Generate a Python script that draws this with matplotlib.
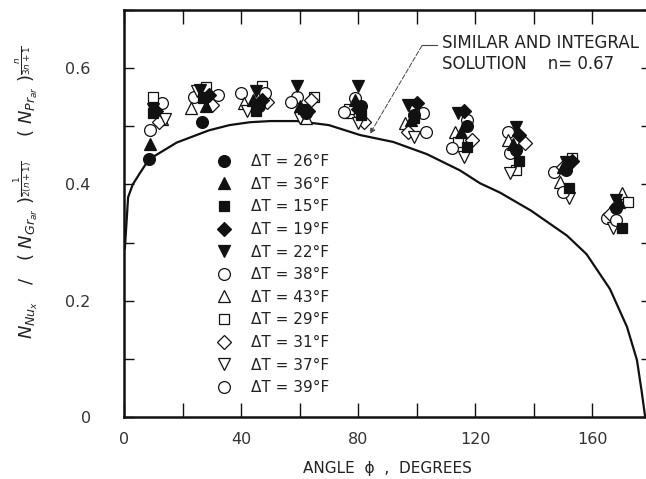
import matplotlib
matplotlib.use("Agg")
import matplotlib.pyplot as plt
from matplotlib.ticker import MultipleLocator

plt.rcParams["font.family"] = "DejaVu Sans"
plt.rcParams["mathtext.fontset"] = "dejavusans"

# similar/integral solution for n = 0.67
curve_phi = [0.3, 1.4, 3.0, 5.5, 8.5, 18, 29, 36, 43, 50, 59, 70, 80.6, 92,
             103.5, 114.8, 121.6, 128.4, 139, 151.3, 158, 166, 171.8, 175.2,
             176.9, 178]
curve_nu = [0.29, 0.378, 0.40, 0.42, 0.443, 0.472, 0.493, 0.502, 0.507, 0.509,
            0.509, 0.502, 0.485, 0.473, 0.452, 0.424, 0.402, 0.386, 0.355,
            0.312, 0.28, 0.22, 0.155, 0.098, 0.041, 0.0]

# measured local values, one run per temperature difference
dt_labels = ["26", "36", "15", "19", "22", "38", "43", "29", "31", "37", "39"]

ang_26 = [8.5, 26.5, 46, 62, 81, 99, 117, 134, 151, 168]
nu_26 = [0.443, 0.508, 0.535, 0.522, 0.535, 0.520, 0.500, 0.460, 0.425, 0.360]
ang_36 = [9, 28, 44, 60, 79, 98, 115, 133, 150, 169]
nu_36 = [0.470, 0.535, 0.545, 0.535, 0.545, 0.510, 0.490, 0.470, 0.430, 0.370]
ang_15 = [10, 27, 45, 61, 81, 99, 117, 135, 152, 170]
nu_15 = [0.522, 0.548, 0.527, 0.530, 0.520, 0.514, 0.464, 0.440, 0.393, 0.325]
ang_19 = [11, 29, 47, 63, 80, 100, 116, 135, 153, 168]
nu_19 = [0.527, 0.553, 0.545, 0.527, 0.530, 0.540, 0.527, 0.485, 0.441, 0.362]
ang_22 = [10, 26, 45, 59, 80, 97, 114, 134, 151, 168]
nu_22 = [0.530, 0.562, 0.560, 0.570, 0.570, 0.536, 0.522, 0.498, 0.438, 0.373]
ang_38 = [13, 24, 40, 59, 79, 102, 117, 131, 147, 165]
nu_38 = [0.540, 0.550, 0.557, 0.550, 0.548, 0.522, 0.510, 0.490, 0.421, 0.342]
ang_43 = [13, 23, 41, 62, 77, 96, 113, 131, 149, 170]
nu_43 = [0.512, 0.531, 0.540, 0.515, 0.525, 0.505, 0.490, 0.476, 0.404, 0.385]
ang_29 = [10, 28, 47, 65, 77, 99, 114, 134, 153, 172]
nu_29 = [0.550, 0.567, 0.570, 0.550, 0.530, 0.530, 0.473, 0.424, 0.445, 0.370]
ang_31 = [12, 30, 49, 64, 82, 97, 119, 137, 150, 166]
nu_31 = [0.507, 0.536, 0.541, 0.545, 0.507, 0.490, 0.476, 0.471, 0.430, 0.350]
ang_37 = [14, 25, 42, 60, 80, 99, 116, 132, 152, 167]
nu_37 = [0.512, 0.560, 0.527, 0.514, 0.505, 0.481, 0.447, 0.419, 0.376, 0.325]
ang_39 = [9, 32, 48, 57, 75, 103, 112, 132, 150, 168]
nu_39 = [0.493, 0.553, 0.558, 0.541, 0.524, 0.490, 0.462, 0.454, 0.387, 0.338]

runs = [
    (ang_26, nu_26, "o", True),
    (ang_36, nu_36, "^", True),
    (ang_15, nu_15, "s", True),
    (ang_19, nu_19, "D", True),
    (ang_22, nu_22, "v", True),
    (ang_38, nu_38, "o", False),
    (ang_43, nu_43, "^", False),
    (ang_29, nu_29, "s", False),
    (ang_31, nu_31, "D", False),
    (ang_37, nu_37, "v", False),
    (ang_39, nu_39, "o", False),
]
marker_size = {"o": 8.5, "^": 8.5, "v": 8.5, "s": 7.5, "D": 7.0}

ink = "#111111"
fig = plt.figure(figsize=(6.46, 4.79), dpi=100)
ax = fig.add_axes([124 / 646, 62 / 479, 527 / 646, 407 / 479])

ax.plot(curve_phi, curve_nu, color=ink, lw=1.6, zorder=2)

# open symbols first so the solid ones sit on top
order = [5, 6, 7, 8, 9, 10, 0, 1, 2, 3, 4]
lines = {}
for i in order:
    ang, nu, mk, filled = runs[i]
    ln, = ax.plot(ang, nu, ls="none", marker=mk, ms=marker_size[mk],
                  mfc=ink if filled else "white", mec=ink,
                  mew=0.9, zorder=4 if filled else 3,
                  label=f"ΔT = {dt_labels[i]}°F")
    lines[i] = ln
handles = [lines[i] for i in range(len(runs))]

ax.legend(handles=handles, loc="upper left", frameon=False,
          bbox_to_anchor=(216 / 646, 1 - 154 / 479),
          bbox_transform=fig.transFigure, borderpad=0, borderaxespad=0,
          handlelength=1.0, handletextpad=1.3, labelspacing=0.5,
          numpoints=1, fontsize=11, labelcolor="#222222")

# leader from the caption down to the curve
ax.plot([101.8, 107.0], [0.639, 0.639], color="#444444", lw=0.8)
ax.annotate("", xy=(84.0, 0.487), xytext=(101.8, 0.639),
            arrowprops=dict(arrowstyle="-|>", color="#444444", lw=0.7,
                            linestyle=(0, (5, 2)), mutation_scale=8,
                            shrinkA=0, shrinkB=0))
ax.text(108.5, 0.658, "SIMILAR AND INTEGRAL\nSOLUTION    n= 0.67",
        ha="left", va="top", fontsize=12, color="#222222", linespacing=1.15)

ax.set_xlim(0, 180)
ax.set_ylim(0, 0.7)
ax.xaxis.set_major_locator(MultipleLocator(40))
ax.xaxis.set_minor_locator(MultipleLocator(20))
ax.yaxis.set_major_locator(MultipleLocator(0.2))
ax.yaxis.set_minor_locator(MultipleLocator(0.1))
ax.xaxis.set_major_formatter(plt.FuncFormatter(lambda v, p: f"{v:.0f}"))
ax.yaxis.set_major_formatter(
    plt.FuncFormatter(lambda v, p: "0" if v == 0 else f"{v:.1f}"))

ax.tick_params(axis="x", which="both", direction="in", top=True, length=10,
               width=1.0, color=ink, labelsize=11.5, pad=11,
               labelcolor="#333333")
ax.tick_params(axis="y", which="both", direction="in", right=True, length=7,
               width=1.0, color=ink, labelsize=11.5, pad=24,
               labelcolor="#333333")
for side in ax.spines.values():
    side.set_linewidth(1.8)
    side.set_color(ink)

ax.set_xlabel("ANGLE  ϕ  ,  DEGREES", fontsize=11, color="#222222",
              labelpad=10)
fig.text(26 / 646, 1 - 192 / 479,
         r"$N_{Nu_x}\ \ \ /\ \ \ (\ N_{Gr_{ar}}\ )^{\frac{1}{2(n+1)}}"
         r"\ \ \ \ (\ N_{Pr_{ar}}\ )^{\frac{n}{3n+1}}$",
         rotation=90, ha="center", va="center", fontsize=13, color="#222222")

fig.savefig("out.png", dpi=100)
